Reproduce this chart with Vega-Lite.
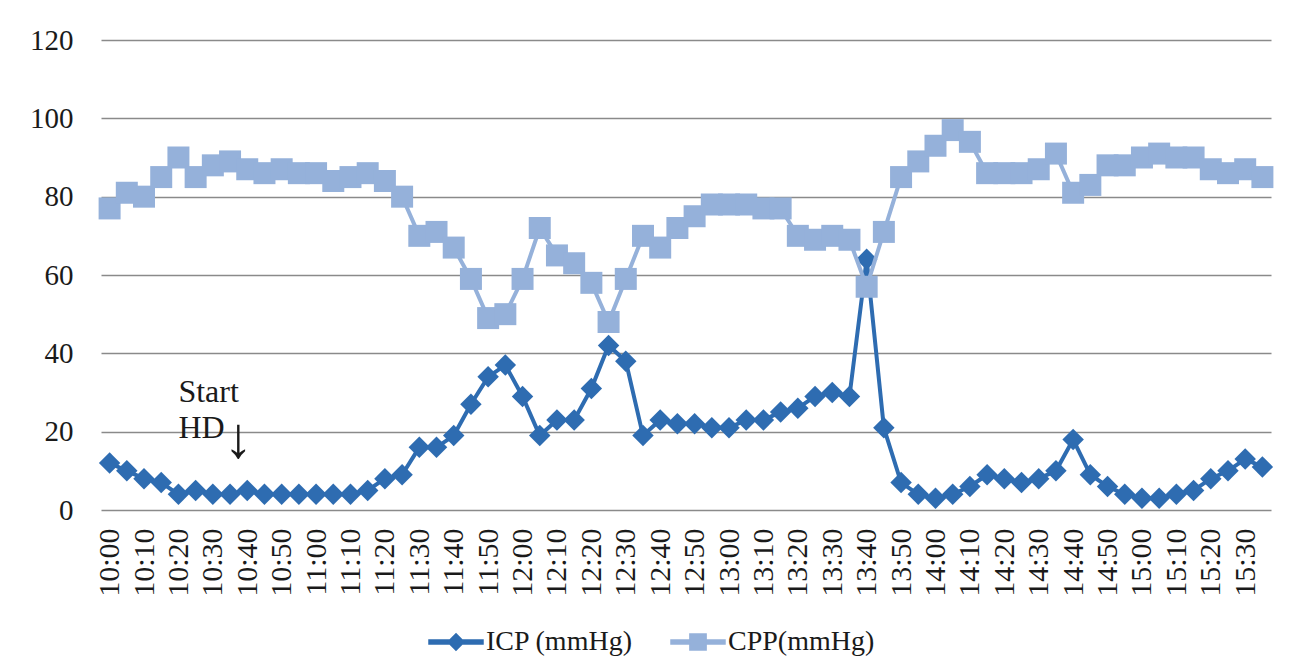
{
  "$schema": "https://vega.github.io/schema/vega-lite/v6.json",
  "width": 1170,
  "height": 470,
  "autosize": {"type": "none"},
  "padding": {"left": 101, "top": 40, "right": 19, "bottom": 147},
  "background": "white",
  "config": {
    "view": {"stroke": null},
    "font": "Liberation Serif"
  },
  "datasets": {
    "main": [
      {"time": "10:00", "ICP (mmHg)": 12, "CPP(mmHg)": 77},
      {"time": "10:05", "ICP (mmHg)": 10, "CPP(mmHg)": 81},
      {"time": "10:10", "ICP (mmHg)": 8, "CPP(mmHg)": 80},
      {"time": "10:15", "ICP (mmHg)": 7, "CPP(mmHg)": 85},
      {"time": "10:20", "ICP (mmHg)": 4, "CPP(mmHg)": 90},
      {"time": "10:25", "ICP (mmHg)": 5, "CPP(mmHg)": 85},
      {"time": "10:30", "ICP (mmHg)": 4, "CPP(mmHg)": 88},
      {"time": "10:35", "ICP (mmHg)": 4, "CPP(mmHg)": 89},
      {"time": "10:40", "ICP (mmHg)": 5, "CPP(mmHg)": 87},
      {"time": "10:45", "ICP (mmHg)": 4, "CPP(mmHg)": 86},
      {"time": "10:50", "ICP (mmHg)": 4, "CPP(mmHg)": 87},
      {"time": "10:55", "ICP (mmHg)": 4, "CPP(mmHg)": 86},
      {"time": "11:00", "ICP (mmHg)": 4, "CPP(mmHg)": 86},
      {"time": "11:05", "ICP (mmHg)": 4, "CPP(mmHg)": 84},
      {"time": "11:10", "ICP (mmHg)": 4, "CPP(mmHg)": 85},
      {"time": "11:15", "ICP (mmHg)": 5, "CPP(mmHg)": 86},
      {"time": "11:20", "ICP (mmHg)": 8, "CPP(mmHg)": 84},
      {"time": "11:25", "ICP (mmHg)": 9, "CPP(mmHg)": 80},
      {"time": "11:30", "ICP (mmHg)": 16, "CPP(mmHg)": 70},
      {"time": "11:35", "ICP (mmHg)": 16, "CPP(mmHg)": 71},
      {"time": "11:40", "ICP (mmHg)": 19, "CPP(mmHg)": 67},
      {"time": "11:45", "ICP (mmHg)": 27, "CPP(mmHg)": 59},
      {"time": "11:50", "ICP (mmHg)": 34, "CPP(mmHg)": 49},
      {"time": "11:55", "ICP (mmHg)": 37, "CPP(mmHg)": 50},
      {"time": "12:00", "ICP (mmHg)": 29, "CPP(mmHg)": 59},
      {"time": "12:05", "ICP (mmHg)": 19, "CPP(mmHg)": 72},
      {"time": "12:10", "ICP (mmHg)": 23, "CPP(mmHg)": 65},
      {"time": "12:15", "ICP (mmHg)": 23, "CPP(mmHg)": 63},
      {"time": "12:20", "ICP (mmHg)": 31, "CPP(mmHg)": 58},
      {"time": "12:25", "ICP (mmHg)": 42, "CPP(mmHg)": 48},
      {"time": "12:30", "ICP (mmHg)": 38, "CPP(mmHg)": 59},
      {"time": "12:35", "ICP (mmHg)": 19, "CPP(mmHg)": 70},
      {"time": "12:40", "ICP (mmHg)": 23, "CPP(mmHg)": 67},
      {"time": "12:45", "ICP (mmHg)": 22, "CPP(mmHg)": 72},
      {"time": "12:50", "ICP (mmHg)": 22, "CPP(mmHg)": 75},
      {"time": "12:55", "ICP (mmHg)": 21, "CPP(mmHg)": 78},
      {"time": "13:00", "ICP (mmHg)": 21, "CPP(mmHg)": 78},
      {"time": "13:05", "ICP (mmHg)": 23, "CPP(mmHg)": 78},
      {"time": "13:10", "ICP (mmHg)": 23, "CPP(mmHg)": 77},
      {"time": "13:15", "ICP (mmHg)": 25, "CPP(mmHg)": 77},
      {"time": "13:20", "ICP (mmHg)": 26, "CPP(mmHg)": 70},
      {"time": "13:25", "ICP (mmHg)": 29, "CPP(mmHg)": 69},
      {"time": "13:30", "ICP (mmHg)": 30, "CPP(mmHg)": 70},
      {"time": "13:35", "ICP (mmHg)": 29, "CPP(mmHg)": 69},
      {"time": "13:40", "ICP (mmHg)": 64, "CPP(mmHg)": 57},
      {"time": "13:45", "ICP (mmHg)": 21, "CPP(mmHg)": 71},
      {"time": "13:50", "ICP (mmHg)": 7, "CPP(mmHg)": 85},
      {"time": "13:55", "ICP (mmHg)": 4, "CPP(mmHg)": 89},
      {"time": "14:00", "ICP (mmHg)": 3, "CPP(mmHg)": 93},
      {"time": "14:05", "ICP (mmHg)": 4, "CPP(mmHg)": 97},
      {"time": "14:10", "ICP (mmHg)": 6, "CPP(mmHg)": 94},
      {"time": "14:15", "ICP (mmHg)": 9, "CPP(mmHg)": 86},
      {"time": "14:20", "ICP (mmHg)": 8, "CPP(mmHg)": 86},
      {"time": "14:25", "ICP (mmHg)": 7, "CPP(mmHg)": 86},
      {"time": "14:30", "ICP (mmHg)": 8, "CPP(mmHg)": 87},
      {"time": "14:35", "ICP (mmHg)": 10, "CPP(mmHg)": 91},
      {"time": "14:40", "ICP (mmHg)": 18, "CPP(mmHg)": 81},
      {"time": "14:45", "ICP (mmHg)": 9, "CPP(mmHg)": 83},
      {"time": "14:50", "ICP (mmHg)": 6, "CPP(mmHg)": 88},
      {"time": "14:55", "ICP (mmHg)": 4, "CPP(mmHg)": 88},
      {"time": "15:00", "ICP (mmHg)": 3, "CPP(mmHg)": 90},
      {"time": "15:05", "ICP (mmHg)": 3, "CPP(mmHg)": 91},
      {"time": "15:10", "ICP (mmHg)": 4, "CPP(mmHg)": 90},
      {"time": "15:15", "ICP (mmHg)": 5, "CPP(mmHg)": 90},
      {"time": "15:20", "ICP (mmHg)": 8, "CPP(mmHg)": 87},
      {"time": "15:25", "ICP (mmHg)": 10, "CPP(mmHg)": 86},
      {"time": "15:30", "ICP (mmHg)": 13, "CPP(mmHg)": 87},
      {"time": "15:35", "ICP (mmHg)": 11, "CPP(mmHg)": 85}
    ],
    "notes": [
      {"time": "10:20", "value": 27.6, "label": "Start"},
      {"time": "10:20", "value": 18.5, "label": "HD"}
    ],
    "arrow": [
      {"time": "10:35", "value": 17.9, "label": "↓"}
    ]
  },
  "data": {"name": "main"},
  "transform": [
    {"fold": ["ICP (mmHg)", "CPP(mmHg)"], "as": ["series", "value"]}
  ],
  "encoding": {
    "x": {
      "field": "time",
      "type": "ordinal",
      "scale": {"type": "point", "padding": 0.5},
      "axis": {
        "title": null,
        "values": ["10:00","10:10","10:20","10:30","10:40","10:50","11:00","11:10","11:20","11:30","11:40","11:50","12:00","12:10","12:20","12:30","12:40","12:50","13:00","13:10","13:20","13:30","13:40","13:50","14:00","14:10","14:20","14:30","14:40","14:50","15:00","15:10","15:20","15:30"],
        "labelAngle": 270,
        "labelAlign": "right",
        "labelBaseline": "middle",
        "labelFont": "Liberation Serif",
        "labelFontSize": 30,
        "labelColor": "#1a1a1a",
        "labelPadding": 18,
        "ticks": false,
        "domain": false,
        "grid": false,
        "labelOverlap": false
      }
    },
    "y": {
      "field": "value",
      "type": "quantitative",
      "scale": {"domain": [0, 120], "nice": false, "zero": true},
      "axis": {
        "title": null,
        "values": [0, 20, 40, 60, 80, 100, 120],
        "labelFont": "Liberation Serif",
        "labelFontSize": 29,
        "labelColor": "#1a1a1a",
        "labelPadding": 28,
        "ticks": false,
        "domain": false,
        "grid": true,
        "gridColor": "#8a8a8a",
        "gridWidth": 1.5,
        "gridOpacity": 1
      }
    },
    "color": {
      "field": "series",
      "type": "nominal",
      "scale": {"domain": ["ICP (mmHg)", "CPP(mmHg)"], "range": ["#2e6cb1", "#95b1da"]}
    }
  },
  "layer": [
    {
      "transform": [{"filter": "datum.series === 'ICP (mmHg)'"}],
      "mark": {"type": "line", "strokeWidth": 4},
      "encoding": {
        "color": {
          "field": "series",
          "type": "nominal",
          "scale": {"domain": ["ICP (mmHg)", "CPP(mmHg)"], "range": ["#2e6cb1", "#95b1da"]},
          "legend": {
            "title": null,
            "orient": "none",
            "direction": "horizontal",
            "legendX": 327,
            "legendY": 574,
            "padding": 0,
            "labelFont": "Liberation Serif",
            "labelFontSize": 28,
            "labelColor": "#1a1a1a",
            "labelOffset": 2,
            "columnPadding": 35,
            "symbolSize": 2916,
            "symbolOpacity": 1,
            "encode": {
              "symbols": {
                "update": {
                  "shape": {"signal": "datum.value === 'ICP (mmHg)' ? 'M-1,-0.075H1V0.075H-1Z M0,-0.3L0.3,0L0,0.3L-0.3,0Z' : 'M-1,-0.075H1V0.075H-1Z M-0.3,-0.3H0.3V0.3H-0.3Z'"},
                  "fill": {"signal": "datum.value === 'ICP (mmHg)' ? '#2e6cb1' : '#95b1da'"},
                  "stroke": {"value": "transparent"},
                  "opacity": {"value": 1}
                }
              }
            }
          }
        }
      }
    },
    {
      "transform": [{"filter": "datum.series === 'ICP (mmHg)'"}],
      "mark": {"type": "point", "shape": "diamond", "filled": true, "size": 460, "opacity": 1}
    },
    {
      "transform": [{"filter": "datum.series === 'CPP(mmHg)'"}],
      "mark": {"type": "line", "strokeWidth": 4}
    },
    {
      "transform": [{"filter": "datum.series === 'CPP(mmHg)'"}],
      "mark": {"type": "point", "shape": "square", "filled": true, "size": 484, "opacity": 1}
    },
    {
      "data": {"name": "notes"},
      "mark": {"type": "text", "align": "left", "baseline": "alphabetic", "font": "Liberation Serif", "fontSize": 32, "color": "#1a1a1a"},
      "encoding": {
        "x": {"field": "time", "type": "ordinal"},
        "y": {"field": "value", "type": "quantitative"},
        "text": {"field": "label"},
        "color": null
      }
    },
    {
      "data": {"name": "arrow"},
      "mark": {"type": "text", "align": "left", "baseline": "middle", "dx": -6, "font": "Liberation Serif", "fontSize": 58, "color": "#1a1a1a"},
      "encoding": {
        "x": {"field": "time", "type": "ordinal"},
        "y": {"field": "value", "type": "quantitative"},
        "text": {"field": "label"},
        "color": null
      }
    }
  ]
}
